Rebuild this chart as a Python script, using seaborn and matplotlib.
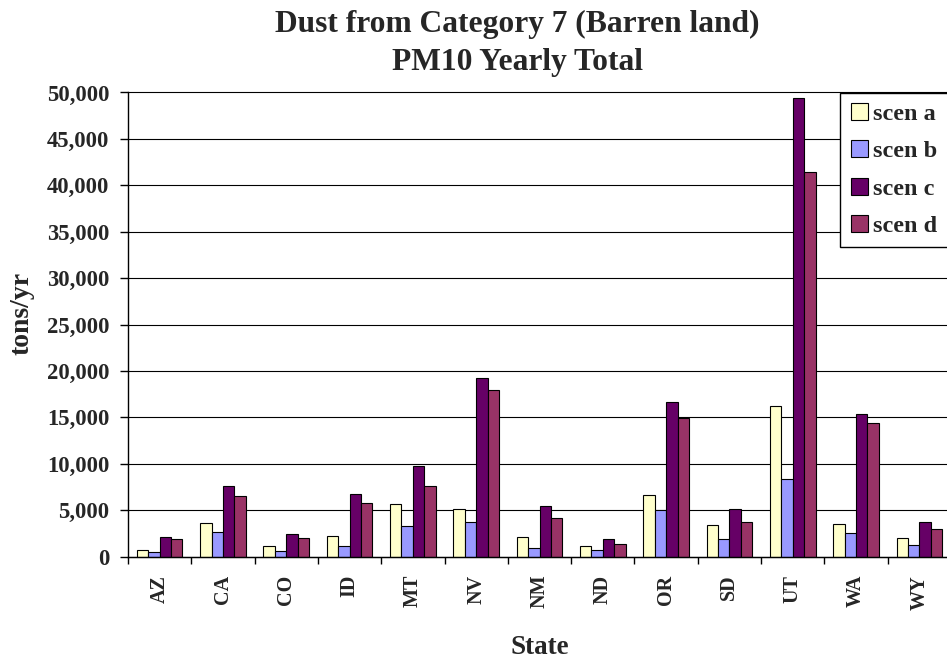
import numpy as np
import pandas as pd
import seaborn as sns
from matplotlib import pyplot as plt
from matplotlib.ticker import MultipleLocator, StrMethodFormatter, FixedLocator

states = ["AZ", "CA", "CO", "ID", "MT", "NV", "NM", "ND", "OR", "SD", "UT", "WA", "WY"]
scenarios = ["scen a", "scen b", "scen c", "scen d"]
scen_a = [750, 3640, 1140, 2180, 5680, 5140, 2140, 1140, 6680, 3410, 16200, 3520, 1980]
scen_b = [460, 2640, 610, 1140, 3290, 3790, 890, 680, 5030, 1870, 8330, 2510, 1260]
scen_c = [2140, 7570, 2430, 6750, 9820, 19300, 5430, 1890, 16630, 5140, 49400, 15370, 3770]
scen_d = [1890, 6500, 2040, 5750, 7570, 17960, 4140, 1390, 14980, 3740, 41450, 14370, 3020]
colors = ["#FFFFCC", "#9999FF", "#660066", "#993366"]

df = pd.DataFrame({
    "State": states * 4,
    "tons": scen_a + scen_b + scen_c + scen_d,
    "Scenario": [s for s in scenarios for _ in states],
})

sns.set_style("white")
plt.rcParams['font.family'] = ['Liberation Serif', 'DejaVu Serif']
plt.rcParams['font.weight'] = 'bold'

W, H = 947, 659
fig = plt.figure(figsize=(W / 100, H / 100), dpi=100)
# plot area in pixels: left 128, bottom 556.7, top 92.5, 63.3 px per state
ax = fig.add_axes([128 / W, (H - 556.7) / H, 823 / W, (556.7 - 92.5) / H])

sns.barplot(data=df, x="State", y="tons", hue="Scenario", order=states,
            hue_order=scenarios, palette=colors, saturation=1, width=0.72,
            gap=0, edgecolor="black", linewidth=0.8, errorbar=None, ax=ax)

ax.set_xlim(-0.5, 12.5)
ax.set_ylim(0, 50000)
ax.yaxis.set_major_locator(MultipleLocator(5000))
ax.yaxis.set_major_formatter(StrMethodFormatter("{x:,.0f}"))
ax.grid(axis="y", color="black", linewidth=0.8)
ax.set_axisbelow(True)
for gl in ax.get_ygridlines():
    gl.set_clip_on(False)

for side in ["top", "right"]:
    ax.spines[side].set_visible(False)
for side in ["left", "bottom"]:
    ax.spines[side].set_color("black")
    ax.spines[side].set_linewidth(1.0)

# category boundaries carry the ticks, labels sit at the centres
ax.xaxis.set_minor_locator(FixedLocator(np.arange(-0.5, 13, 1)))
ax.tick_params(axis="x", which="major", bottom=True, length=0, pad=13,
               labelrotation=90, labelsize=14.5)
ax.tick_params(axis="x", which="minor", bottom=True, length=5, width=1,
               direction="out", color="black")
ax.tick_params(axis="y", left=True, length=5.5, width=1, direction="out",
               color="black", pad=8, labelsize=16.3)

ax.set_xlabel("State", fontsize=19.5, fontweight="bold")
ax.xaxis.set_label_coords(0.5, -0.169)
ax.set_ylabel("tons/yr", fontsize=20, fontweight="bold")
ax.yaxis.set_label_coords(-0.114, 0.525)

handles, labels = ax.get_legend_handles_labels()
leg = ax.legend(handles, labels, loc="upper left",
                bbox_to_anchor=(840 / W, (H - 92.7) / H),
                bbox_transform=fig.transFigure, borderaxespad=0,
                frameon=True, fancybox=False, edgecolor="black",
                framealpha=1, fontsize=17.5, handlelength=0.7,
                handleheight=0.7, handletextpad=0.2, labelspacing=0.62,
                borderpad=0.44)
leg.get_frame().set_linewidth(1.0)

fig.suptitle("Dust from Category 7 (Barren land)\nPM10 Yearly Total",
             x=517.5 / W, y=1 - 10 / H, va="top", fontsize=22.7,
             fontweight="bold", linespacing=1.4)

fig.savefig("out.png", dpi=100)
